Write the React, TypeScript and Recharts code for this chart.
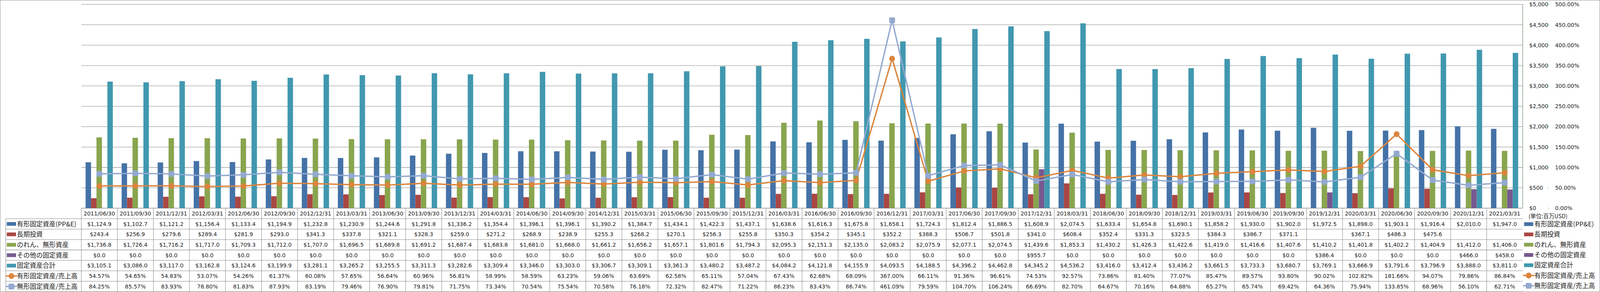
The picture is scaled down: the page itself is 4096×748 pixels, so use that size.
import React from 'react';
import { ComposedChart, Bar, Line, XAxis, YAxis, CartesianGrid } from 'recharts';

// quarter-end dates (table header)
const dates = [
  '2011/06/30', '2011/09/30', '2011/12/31', '2012/03/31', '2012/06/30', '2012/09/30', '2012/12/31', '2013/03/31',
  '2013/06/30', '2013/09/30', '2013/12/31', '2014/03/31', '2014/06/30', '2014/09/30', '2014/12/31', '2015/03/31',
  '2015/06/30', '2015/09/30', '2015/12/31', '2016/03/31', '2016/06/30', '2016/09/30', '2016/12/31', '2017/03/31',
  '2017/06/30', '2017/09/30', '2017/12/31', '2018/03/31', '2018/06/30', '2018/09/30', '2018/12/31', '2019/03/31',
  '2019/06/30', '2019/09/30', '2019/12/31', '2020/03/31', '2020/06/30', '2020/09/30', '2020/12/31', '2021/03/31',
];

// 有形固定資産(PP&E), 百万USD
const ppe = [
  1124.9, 1102.7, 1121.2, 1156.4, 1133.4, 1194.9, 1232.8, 1230.9, 1244.6, 1291.8,
  1336.2, 1354.4, 1396.1, 1396.1, 1390.2, 1384.7, 1434.1, 1422.3, 1437.1, 1638.6,
  1616.3, 1675.8, 1658.1, 1724.3, 1812.4, 1886.5, 1608.9, 2074.5, 1633.4, 1654.8,
  1690.1, 1858.2, 1930.0, 1902.0, 1972.5, 1898.0, 1903.1, 1916.4, 2010.0, 1947.0,
];

// 長期投資
const investments: (number | null)[] = [
  243.4, 256.9, 279.6, 289.4, 281.9, 293.0, 341.3, 337.8, 321.1, 328.3,
  259.0, 271.2, 268.9, 238.9, 255.3, 268.2, 270.1, 256.3, 255.8, 350.3,
  354.2, 345.1, 352.2, 388.3, 506.7, 501.8, 341.0, 608.4, 352.4, 331.3,
  323.5, 384.3, 386.7, 371.1, null, 367.1, 486.3, 475.6, null, null,
];

// のれん、無形資産
const intangibles = [
  1736.8, 1726.4, 1716.2, 1717.0, 1709.3, 1712.0, 1707.0, 1696.5, 1689.8, 1691.2,
  1687.4, 1683.8, 1681.0, 1668.0, 1661.2, 1656.2, 1657.1, 1801.6, 1794.3, 2095.3,
  2151.3, 2135.0, 2083.2, 2075.9, 2077.1, 2074.5, 1439.6, 1853.3, 1430.2, 1426.3,
  1422.6, 1419.0, 1416.6, 1407.6, 1410.2, 1401.8, 1402.2, 1404.9, 1412.0, 1406.0,
];

// その他の固定資産
const otherAssets = [
  0, 0, 0, 0, 0, 0, 0, 0, 0, 0,
  0, 0, 0, 0, 0, 0, 0, 0, 0, 0,
  0, 0, 0, 0, 0, 0, 955.7, 0, 0, 0,
  0, 0, 0, 0, 386.4, 0, 0, 0, 466.0, 458.0,
];

// 固定資産合計
const totalAssets = [
  3105.1, 3086.0, 3117.0, 3162.8, 3124.6, 3199.9, 3281.1, 3265.2, 3255.5, 3311.3,
  3282.6, 3309.4, 3346.0, 3303.0, 3306.7, 3309.1, 3361.3, 3480.2, 3487.2, 4084.2,
  4121.8, 4155.9, 4093.5, 4188.5, 4396.2, 4462.8, 4345.2, 4536.2, 3416.0, 3412.4,
  3436.2, 3661.5, 3733.3, 3680.7, 3769.1, 3666.9, 3791.6, 3796.9, 3888.0, 3811.0,
];

// 有形固定資産/売上高 (%)
const ppeRatio = [
  54.57, 54.65, 54.83, 53.07, 54.26, 61.37, 60.08, 57.65, 56.64, 60.96,
  56.81, 58.99, 58.59, 63.23, 59.06, 63.69, 62.58, 65.11, 57.04, 67.43,
  62.68, 68.09, 367.0, 66.11, 91.36, 96.61, 74.53, 92.57, 73.86, 81.40,
  77.07, 85.47, 89.57, 93.80, 90.02, 102.82, 181.66, 94.07, 79.86, 86.84,
];

// 無形固定資産/売上高 (%)
const intangibleRatio = [
  84.25, 85.57, 83.93, 78.80, 81.83, 87.93, 83.19, 79.46, 76.90, 79.81,
  71.75, 73.34, 70.54, 75.54, 70.58, 76.18, 72.32, 82.47, 71.22, 86.23,
  83.43, 86.74, 461.09, 79.59, 104.70, 106.24, 66.69, 82.70, 64.67, 70.16,
  64.88, 65.27, 65.74, 69.42, 64.36, 75.94, 133.85, 68.96, 56.10, 62.71,
];

const usdTicks = [0, 500, 1000, 1500, 2000, 2500, 3000, 3500, 4000, 4500, 5000];
const pctTicks = [0, 50, 100, 150, 200, 250, 300, 350, 400, 450, 500];

const data = dates.map((date, i) => ({
  date,
  ppe: ppe[i],
  investments: investments[i],
  intangibles: intangibles[i],
  otherAssets: otherAssets[i],
  totalAssets: totalAssets[i],
  ppeRatio: ppeRatio[i],
  intangibleRatio: intangibleRatio[i],
}));

// layout, in reference pixels (the whole thing is scaled down afterwards)
const W = 4701;
const H = 858;
const SCALE = 4096 / 4701;
const PLOT_L = 239;
const PLOT_R = 4474;
const PLOT_T = 13;
const PLOT_B = 612;
const COL_W = (PLOT_R - PLOT_L) / dates.length;
const HEADER_H = 31;
const ROW_H = 30.65;
const LABEL_L = 17;

const GRID = '#878787';
const TEXT = '#1c1c1c';
const NUM_FONT = '"DejaVu Sans", Verdana, sans-serif';
const JP_FONT = '"Noto Sans CJK JP", "Noto Sans", sans-serif';

const fmtUsd = (v: number | null) =>
  v == null ? '' : '$' + v.toLocaleString('en-US', { minimumFractionDigits: 1, maximumFractionDigits: 1 });
const fmtPct = (v: number | null) => (v == null ? '' : v.toFixed(2) + '%');

type Kind = 'bar' | 'circle' | 'square';
const rows: { name: string; color: string; kind: Kind; values: (number | null)[]; fmt: (v: number | null) => string }[] = [
  { name: '有形固定資産(PP&E)', color: '#4572A7', kind: 'bar', values: ppe, fmt: fmtUsd },
  { name: '長期投資', color: '#AA4643', kind: 'bar', values: investments, fmt: fmtUsd },
  { name: 'のれん、無形資産', color: '#89A54E', kind: 'bar', values: intangibles, fmt: fmtUsd },
  { name: 'その他の固定資産', color: '#76598F', kind: 'bar', values: otherAssets, fmt: fmtUsd },
  { name: '固定資産合計', color: '#4198AF', kind: 'bar', values: totalAssets, fmt: fmtUsd },
  { name: '有形固定資産/売上高', color: '#DB843D', kind: 'circle', values: ppeRatio, fmt: fmtPct },
  { name: '無形固定資産/売上高', color: '#93A9CF', kind: 'square', values: intangibleRatio, fmt: fmtPct },
];

const UsdTick = (props: any) => {
  const { y, payload } = props;
  return (
    <text x={4493} y={y} dy="0.36em" textAnchor="start" fontSize={16} fontFamily={NUM_FONT} fill={TEXT}>
      {'$' + Number(payload.value).toLocaleString('en-US')}
    </text>
  );
};

const PctTick = (props: any) => {
  const { y, payload } = props;
  return (
    <g>
      <line x1={4547} x2={4551} y1={y} y2={y} stroke="#22DD22" strokeWidth={1.2} />
      <text x={4569} y={y} dy="0.36em" textAnchor="start" fontSize={16} fontFamily={NUM_FONT} fill={TEXT}>
        {Number(payload.value).toFixed(2) + '%'}
      </text>
    </g>
  );
};

const CircleDot = (color: string) => (p: any) =>
  p.cx == null || p.cy == null ? <g key={p.index} /> : <circle key={p.index} cx={p.cx} cy={p.cy} r={8.5} fill={color} />;

const SquareDot = (color: string) => (p: any) =>
  p.cx == null || p.cy == null ? (
    <g key={p.index} />
  ) : (
    <rect key={p.index} x={p.cx - 8.5} y={p.cy - 8.5} width={17} height={17} rx={3} fill={color} />
  );

// small key symbol used by the data table and by the legend
const Key = ({ x, y, color, kind }: { x: number; y: number; color: string; kind: Kind }) => {
  if (kind === 'bar') return <rect x={x} y={y - 5.5} width={27} height={11} fill={color} />;
  return (
    <g>
      <line x1={x - 3} x2={x + 30} y1={y} y2={y} stroke={color} strokeWidth={4} />
      {kind === 'circle' ? (
        <circle cx={x + 13.5} cy={y} r={8.5} fill={color} />
      ) : (
        <rect x={x + 5} y={y - 8.5} width={17} height={17} rx={3} fill={color} />
      )}
    </g>
  );
};

const Overlay = () => {
  const rowTop = (k: number) => PLOT_B + HEADER_H + k * ROW_H;
  const colX = (i: number) => PLOT_L + i * COL_W;
  return (
    <svg width={W} height={H} style={{ position: 'absolute', left: 0, top: 0, pointerEvents: 'none' }}>
      {/* plot right border */}
      <line x1={PLOT_R} x2={PLOT_R} y1={PLOT_T} y2={PLOT_B} stroke={GRID} strokeWidth={1.2} />
      {/* table grid */}
      <line x1={PLOT_L} x2={PLOT_R} y1={PLOT_B} y2={PLOT_B} stroke={GRID} strokeWidth={1.2} />
      {rows.map((_, k) => (
        <line key={'h' + k} x1={LABEL_L} x2={PLOT_R} y1={rowTop(k)} y2={rowTop(k)} stroke={GRID} strokeWidth={1.2} />
      ))}
      <line x1={LABEL_L} x2={PLOT_R} y1={rowTop(rows.length)} y2={rowTop(rows.length)} stroke={GRID} strokeWidth={1.2} />
      <line x1={LABEL_L} x2={LABEL_L} y1={rowTop(0)} y2={rowTop(rows.length)} stroke={GRID} strokeWidth={1.2} />
      {dates.map((_, i) => (
        <line key={'v' + i} x1={colX(i)} x2={colX(i)} y1={PLOT_B} y2={rowTop(rows.length)} stroke={GRID} strokeWidth={1.2} />
      ))}
      {/* header dates */}
      {dates.map((d, i) => (
        <text
          key={'d' + i}
          x={colX(i) + COL_W / 2}
          y={PLOT_B + HEADER_H / 2}
          dy="0.36em"
          textAnchor="middle"
          fontSize={16}
          fontFamily={NUM_FONT}
          fill={TEXT}
        >
          {d}
        </text>
      ))}
      {/* row labels and values */}
      {rows.map((r, k) => {
        const cy = rowTop(k) + ROW_H / 2;
        return (
          <g key={'r' + k}>
            <Key x={20} y={cy} color={r.color} kind={r.kind} />
            <text x={49.5} y={cy} dy="0.36em" fontSize={19} fontFamily={JP_FONT} fill={TEXT}>
              {r.name}
            </text>
            {r.values.map((v, i) => (
              <text
                key={i}
                x={colX(i) + COL_W / 2}
                y={cy}
                dy="0.36em"
                textAnchor="middle"
                fontSize={16}
                fontFamily={NUM_FONT}
                fill={TEXT}
              >
                {r.fmt(v)}
              </text>
            ))}
          </g>
        );
      })}
      {/* unit label */}
      <text x={4491} y={636} dy="0.36em" fontSize={16.5} fontFamily={JP_FONT} fill={TEXT}>
        (単位:百万USD)
      </text>
      {/* legend */}
      {rows.map((r, k) => {
        const cy = 659 + k * 30.2;
        return (
          <g key={'l' + k}>
            <Key x={4478} y={cy} color={r.color} kind={r.kind} />
            <text x={4508} y={cy} dy="0.36em" fontSize={19} fontFamily={JP_FONT} fill={TEXT}>
              {r.name}
            </text>
          </g>
        );
      })}
    </svg>
  );
};

const App: React.FC = () => {
  return (
    <div style={{ position: 'fixed', left: 0, top: 0, width: 4096, height: 748, overflow: 'hidden', background: '#fff' }}>
      <div
        style={{
          position: 'relative',
          width: W,
          height: H,
          transform: `scale(${SCALE})`,
          transformOrigin: '0 0',
          background: '#fff',
        }}
      >
        <ComposedChart
          width={W}
          height={H}
          data={data}
          margin={{ top: PLOT_T, right: 0, bottom: H - PLOT_B, left: PLOT_L }}
          barCategoryGap="11.8%"
          barGap={0}
        >
          <CartesianGrid yAxisId="usd" vertical={false} stroke={GRID} strokeWidth={1.2} />
          <XAxis dataKey="date" hide />
          <YAxis
            yAxisId="usd"
            orientation="right"
            width={PLOT_L ? 76 : 0}
            domain={[0, 5000]}
            ticks={usdTicks}
            interval={0}
            axisLine={false}
            tickLine={false}
            tick={UsdTick}
          />
          <YAxis
            yAxisId="pct"
            orientation="right"
            width={W - PLOT_R - 76}
            domain={[0, 500]}
            ticks={pctTicks}
            interval={0}
            axisLine={{ stroke: '#22DD22', strokeDasharray: '4 3', strokeWidth: 1.2 }}
            tickLine={false}
            tick={PctTick}
          />
          {rows.slice(0, 5).map((r, k) => (
            <Bar
              key={r.name}
              yAxisId="usd"
              dataKey={['ppe', 'investments', 'intangibles', 'otherAssets', 'totalAssets'][k]}
              name={r.name}
              fill={r.color}
              isAnimationActive={false}
            />
          ))}
          <Line
            yAxisId="pct"
            dataKey="ppeRatio"
            name={rows[5].name}
            stroke={rows[5].color}
            strokeWidth={4}
            dot={CircleDot(rows[5].color)}
            activeDot={false}
            isAnimationActive={false}
          />
          <Line
            yAxisId="pct"
            dataKey="intangibleRatio"
            name={rows[6].name}
            stroke={rows[6].color}
            strokeWidth={4}
            dot={SquareDot(rows[6].color)}
            activeDot={false}
            isAnimationActive={false}
          />
        </ComposedChart>
        <Overlay />
        <div
          style={{
            position: 'absolute',
            left: 0,
            top: 0,
            width: W,
            height: H,
            boxSizing: 'border-box',
            border: `1.5px solid ${GRID}`,
            pointerEvents: 'none',
          }}
        />
      </div>
    </div>
  );
};

export default App;
